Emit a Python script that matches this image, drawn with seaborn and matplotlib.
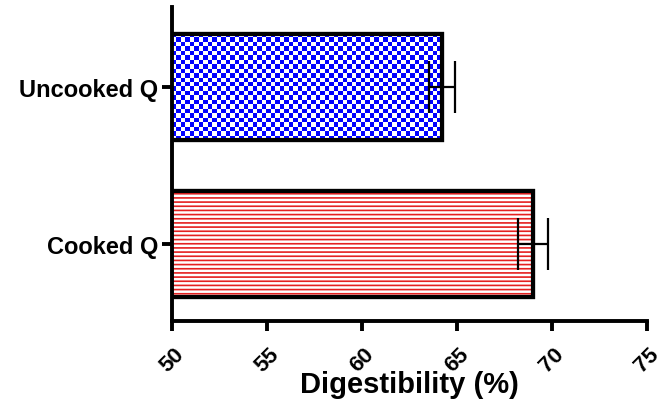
import numpy as np
import pandas as pd
import matplotlib
matplotlib.use("Agg")
import matplotlib.pyplot as plt
import seaborn as sns
from matplotlib.colors import ListedColormap
from matplotlib.patches import Rectangle

categories = ["Uncooked Q", "Cooked Q"]
means = [64.2, 69.0]
errors = [0.7, 0.8]
xticks = [50, 55, 60, 65, 70, 75]

sns.set_style("ticks")
plt.rcParams["font.family"] = ["Liberation Sans", "DejaVu Sans"]
plt.rcParams["hatch.linewidth"] = 1.2
plt.rcParams["text.color"] = "black"
plt.rcParams["axes.labelcolor"] = "black"
plt.rcParams["xtick.color"] = "black"
plt.rcParams["ytick.color"] = "black"
plt.rcParams["axes.edgecolor"] = "black"

df = pd.DataFrame({"cat": categories, "val": means})

fig = plt.figure(figsize=(6.62, 4.10), dpi=100)
ax = fig.add_axes([172/662, (410-322)/410, (647-172)/662, (322-8)/410])

sns.barplot(data=df, y="cat", x="val", order=categories, orient="h",
            width=0.68, color="white", edgecolor="black", linewidth=3, ax=ax,
            errorbar=None)
ax.set_xlim(50, 75)
ax.set_ylim(1.49, -0.51)

patches = list(ax.patches)
fig.canvas.draw()
x0 = ax.get_xlim()[0]

# cooked: red horizontal lines
p1 = patches[1]
ax.add_patch(Rectangle((p1.get_x(), p1.get_y()), p1.get_width(), p1.get_height(),
                       facecolor="white", edgecolor="#e52020", linewidth=0,
                       hatch="----", zorder=p1.get_zorder() + 0.1))

# uncooked: blue checkerboard clipped to the bar
p0 = patches[0]
x1 = p0.get_x() + p0.get_width()
y0 = p0.get_y()
y1 = y0 + p0.get_height()
pw = ax.transData.transform((x1, 0))[0] - ax.transData.transform((x0, 0))[0]
ph = abs(ax.transData.transform((0, y1))[1] - ax.transData.transform((0, y0))[1])
sq = 4.5
nx, ny = int(round(pw / sq)), int(round(ph / sq))
board = (np.add.outer(np.arange(ny), np.arange(nx)) % 2).astype(float)
cmap = ListedColormap(["#0000ff", "white"])
im = ax.imshow(board, cmap=cmap, extent=(x0, x1, y1, y0), aspect="auto",
               interpolation="nearest", zorder=p0.get_zorder() + 0.1)
im.set_clip_path(p0)

# bar outlines on top
for p in patches:
    ax.add_patch(Rectangle((p.get_x(), p.get_y()), p.get_width(), p.get_height(),
                           fill=False, edgecolor="black", linewidth=3,
                           zorder=p.get_zorder() + 0.2))
ax.set_xlim(50, 75)
ax.set_ylim(1.49, -0.51)

ax.errorbar(means, range(len(categories)), xerr=errors, fmt="none",
            ecolor="black", elinewidth=1.6, capsize=19, capthick=1.6, zorder=5)

sns.despine(ax=ax)
for s in ["left", "bottom"]:
    ax.spines[s].set_linewidth(2.8)
    ax.spines[s].set_color("black")
ax.tick_params(axis="both", width=2.8, length=7, labelsize=16, colors="black")
ax.tick_params(axis="y", labelsize=17, pad=3)
ax.tick_params(axis="x", pad=9)
ax.set_xticks(xticks)
ax.set_xticklabels([str(t) for t in xticks], rotation=45, fontweight="bold",
                   ha="center", va="top")
for lab in ax.get_yticklabels():
    lab.set_fontweight("bold")
ax.set_ylabel("")
ax.set_xlabel("Digestibility (%)", fontsize=21, fontweight="bold", labelpad=-4)

fig.savefig("out.png", dpi=100)
